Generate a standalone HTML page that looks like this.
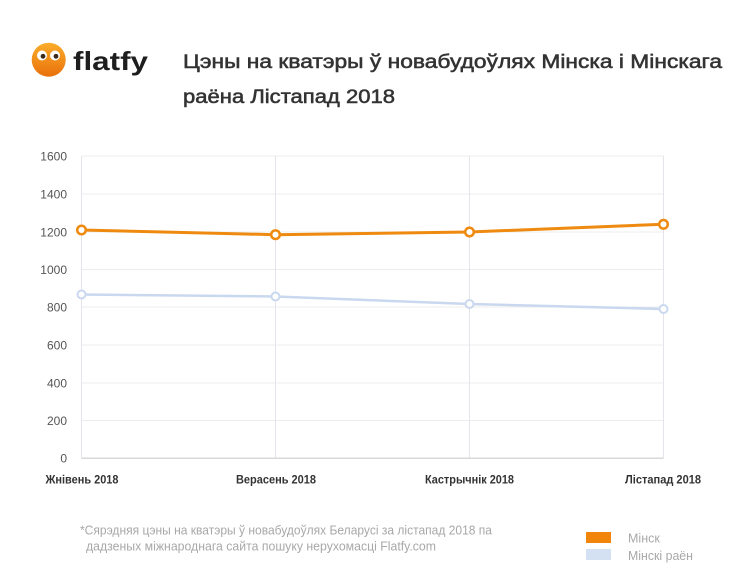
<!DOCTYPE html>
<html><head><meta charset="utf-8"><style>
html,body{margin:0;padding:0;background:#fff;width:732px;height:571px;overflow:hidden}
svg{display:block}
text{font-family:"Liberation Sans","DejaVu Sans",sans-serif}
</style></head><body>
<svg width="732" height="571" viewBox="0 0 732 571" xmlns="http://www.w3.org/2000/svg">
<defs>
<linearGradient id="og" x1="0" y1="0" x2="0" y2="1">
<stop offset="0" stop-color="#fbad2a"/><stop offset="1" stop-color="#e9700b"/>
</linearGradient>
</defs>
<!-- logo -->
<circle cx="48.7" cy="59.7" r="17" fill="url(#og)"/>
<circle cx="42" cy="55.5" r="5" fill="#fff"/>
<circle cx="55" cy="55.5" r="5" fill="#fff"/>
<circle cx="43" cy="56.3" r="2.4" fill="#3a2a1a"/>
<circle cx="56" cy="56.3" r="2.4" fill="#3a2a1a"/>
<text x="73" y="70" font-size="26" font-weight="bold" fill="#1e1e1e" textLength="75" lengthAdjust="spacingAndGlyphs">flatfy</text>
<!-- title -->
<text x="183" y="68" font-size="19.5" fill="#333" stroke="#333" stroke-width="0.55" textLength="539" lengthAdjust="spacingAndGlyphs">Цэны на кватэры ў новабудоўлях Мінска і Мінскага</text>
<text x="183" y="103" font-size="19.5" fill="#333" stroke="#333" stroke-width="0.55" textLength="212" lengthAdjust="spacingAndGlyphs">раёна Лістапад 2018</text>
<!-- grid -->
<g stroke="#ececec" stroke-width="1">
<line x1="81.5" y1="156" x2="663.5" y2="156"/>
<line x1="81.5" y1="194" x2="663.5" y2="194"/>
<line x1="81.5" y1="232" x2="663.5" y2="232"/>
<line x1="81.5" y1="269.5" x2="663.5" y2="269.5"/>
<line x1="81.5" y1="307" x2="663.5" y2="307"/>
<line x1="81.5" y1="345" x2="663.5" y2="345"/>
<line x1="81.5" y1="383" x2="663.5" y2="383"/>
<line x1="81.5" y1="420.5" x2="663.5" y2="420.5"/>
</g>
<g stroke="#e4e4ea" stroke-width="1">
<line x1="81.5" y1="156" x2="81.5" y2="458"/>
<line x1="275.5" y1="156" x2="275.5" y2="458"/>
<line x1="469.5" y1="156" x2="469.5" y2="458"/>
<line x1="663.5" y1="156" x2="663.5" y2="458"/>
</g>
<line x1="81.5" y1="458.3" x2="663.5" y2="458.3" stroke="#d8d8d8" stroke-width="1.5"/>
<!-- y labels -->
<g font-size="12" fill="#555" text-anchor="end">
<text x="67" y="160.5">1600</text>
<text x="67" y="198.5">1400</text>
<text x="67" y="236.5">1200</text>
<text x="67" y="274">1000</text>
<text x="67" y="311.5">800</text>
<text x="67" y="349.5">600</text>
<text x="67" y="387.5">400</text>
<text x="67" y="425">200</text>
<text x="67" y="462.5">0</text>
</g>
<!-- x labels -->
<g font-size="12" font-weight="bold" fill="#333" text-anchor="middle">
<text x="82" y="483.5" textLength="73" lengthAdjust="spacingAndGlyphs">Жнівень 2018</text>
<text x="276" y="483.5" textLength="80" lengthAdjust="spacingAndGlyphs">Верасень 2018</text>
<text x="469.5" y="483.5" textLength="89" lengthAdjust="spacingAndGlyphs">Кастрычнік 2018</text>
<text x="663" y="483.5" textLength="76" lengthAdjust="spacingAndGlyphs">Лістапад 2018</text>
</g>
<!-- series blue -->
<polyline points="81.5,294.5 275.5,296.5 469.5,304 663.5,309" fill="none" stroke="#c9d8ee" stroke-width="2.5"/>
<g fill="#fff" stroke="#c9d8ee" stroke-width="2">
<circle cx="81.5" cy="294.5" r="4"/>
<circle cx="275.5" cy="296.5" r="4"/>
<circle cx="469.5" cy="304" r="4"/>
<circle cx="663.5" cy="309" r="4"/>
</g>
<!-- series orange -->
<polyline points="81.5,230 275.5,234.7 469.5,232 663.5,224.3" fill="none" stroke="#ef8a10" stroke-width="3"/>
<g fill="#fff" stroke="#ef8a10" stroke-width="2.5">
<circle cx="81.5" cy="230" r="4.3"/>
<circle cx="275.5" cy="234.7" r="4.3"/>
<circle cx="469.5" cy="232" r="4.3"/>
<circle cx="663.5" cy="224.3" r="4.3"/>
</g>
<!-- footnote -->
<g font-size="12.5" fill="#a8a8a8">
<text x="80" y="534.5" textLength="412" lengthAdjust="spacingAndGlyphs">*Сярэдняя цэны на кватэры ў новабудоўлях Беларусі за лістапад 2018 па</text>
<text x="86" y="550.5" textLength="350" lengthAdjust="spacingAndGlyphs">дадзеных міжнароднага сайта пошуку нерухомасці Flatfy.com</text>
</g>
<!-- legend -->
<rect x="586" y="532" width="25" height="11" fill="#f0850a"/>
<rect x="586" y="549" width="25" height="11" fill="#d3e1f2"/>
<g font-size="12.5" fill="#a8a8a8">
<text x="628" y="542.5">Мінск</text>
<text x="628" y="560" textLength="65" lengthAdjust="spacingAndGlyphs">Мінскі раён</text>
</g>
</svg>
</body></html>
